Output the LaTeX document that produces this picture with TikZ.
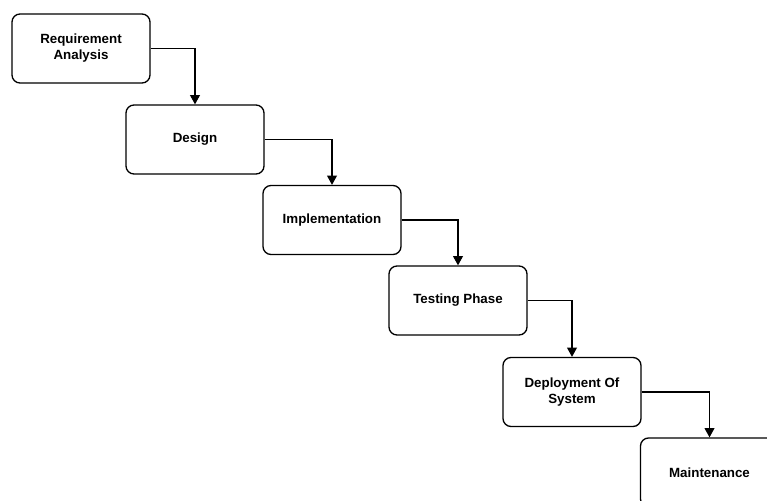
\documentclass[tikz,border=0pt]{standalone}
\usepackage{fontspec}
\setmainfont{Liberation Sans}
\usetikzlibrary{arrows.meta}
\begin{document}
\begin{tikzpicture}[x=0.75pt,y=-0.75pt,
  phase/.style={draw=black, line width=1pt, rounded corners=6pt, fill=white,
    minimum width=103.5pt, minimum height=51.75pt, inner sep=0pt,
    align=center, font=\fontsize{10}{12}\selectfont\bfseries},
  flow/.style={draw=black, line width=0.8pt,
    -{Triangle[width=7.5pt,length=7pt]}}]
\fill[white] (0,0) rectangle (767,500);
\useasboundingbox (0,0) rectangle (767,500);
\clip (0,0) rectangle (767,500);
\node[phase] (req) at (81,48.5) {Requirement\\Analysis};
\node[phase] (des) at (195,139.5) {Design};
\node[phase] (imp) at (332,220) {Implementation};
\node[phase] (tst) at (458,300.5) {Testing Phase};
\node[phase] (dep) at (572,392) {Deployment Of\\System};
\node[phase] (mnt) at (709.5,472.5) {Maintenance};
\draw[flow] (req.east) -| (des.north);
\draw[flow] (des.east) -| (imp.north);
\draw[flow] (imp.east) -| (tst.north);
\draw[flow] (tst.east) -| (dep.north);
\draw[flow] (dep.east) -| (mnt.north);
\end{tikzpicture}
\end{document}
